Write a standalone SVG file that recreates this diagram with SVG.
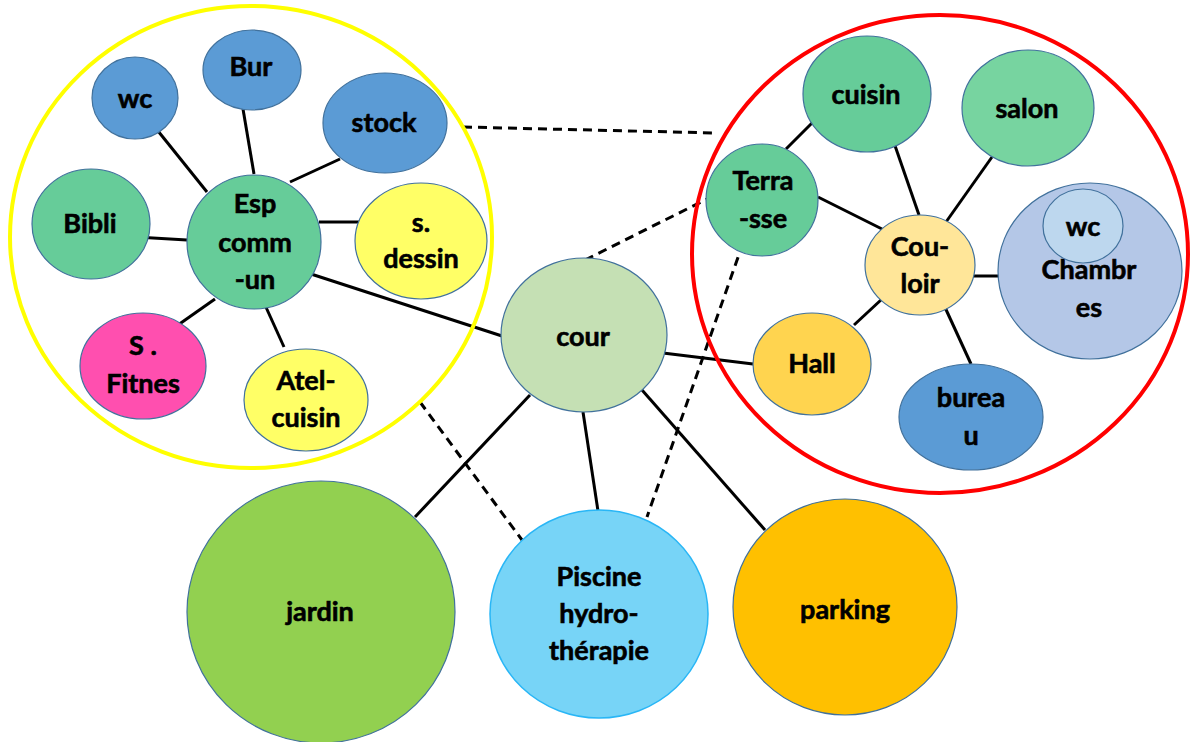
<svg xmlns="http://www.w3.org/2000/svg" width="1190" height="742" viewBox="0 0 1190 742">
<style>
.n{stroke:#41719C;stroke-width:1.2}
.t{font-family:Lato,"Liberation Sans",sans-serif;font-weight:bold;font-size:27px;fill:#000;stroke:#000;stroke-width:0.6;text-anchor:middle}
.c{stroke:#000;stroke-width:3;fill:none}
.d{stroke:#000;stroke-width:3;fill:none;stroke-dasharray:9 6}
.ring{fill:none;stroke-width:4}
</style>
<rect width="1190" height="742" fill="#ffffff"/>
<g id="connectors">
<line class="c" x1="154" y1="126" x2="207" y2="192"/>
<line class="c" x1="243" y1="109" x2="254" y2="174"/>
<line class="c" x1="340" y1="159" x2="290" y2="182"/>
<line class="c" x1="136" y1="237" x2="187" y2="240"/>
<line class="c" x1="319" y1="222" x2="361" y2="222"/>
<line class="c" x1="178" y1="325" x2="215" y2="299"/>
<line class="c" x1="265" y1="305" x2="284" y2="347"/>
<line class="c" x1="311" y1="274" x2="502" y2="336"/>
<line class="c" x1="663" y1="353" x2="753" y2="364"/>
<line class="c" x1="786" y1="149" x2="816" y2="119"/>
<line class="c" x1="892" y1="137" x2="919" y2="215"/>
<line class="c" x1="992" y1="157" x2="946" y2="222"/>
<line class="c" x1="818" y1="197" x2="882" y2="229"/>
<line class="c" x1="971" y1="276" x2="1007" y2="276"/>
<line class="c" x1="882" y1="299" x2="854" y2="325"/>
<line class="c" x1="943" y1="303" x2="971" y2="364"/>
<line class="c" x1="415" y1="517" x2="530" y2="395"/>
<line class="c" x1="583" y1="412" x2="598" y2="511"/>
<line class="c" x1="642" y1="390" x2="765" y2="530"/>
<line class="d" x1="463" y1="127" x2="716" y2="133"/>
<line class="d" x1="585" y1="260" x2="707" y2="199"/>
<line class="d" x1="743" y1="243" x2="647" y2="517"/>
<line class="d" x1="420" y1="402" x2="522" y2="540"/>
</g>
<g id="wc1"><ellipse class="n" cx="135" cy="98" rx="43" ry="41" fill="#5B9BD5"/><text class="t" x="135" y="108">wc</text></g>
<g id="bur"><ellipse class="n" cx="252" cy="70" rx="49" ry="40" fill="#5B9BD5"/><text class="t" x="251" y="76">Bur</text></g>
<g id="stock"><ellipse class="n" cx="385" cy="123" rx="62" ry="50" fill="#5B9BD5"/><text class="t" x="384" y="132">stock</text></g>
<g id="bibli"><ellipse class="n" cx="91" cy="224" rx="59" ry="55" fill="#66CC99"/><text class="t" x="90" y="233">Bibli</text></g>
<g id="esp"><ellipse class="n" cx="254" cy="242" rx="67" ry="67" fill="#66CC99"/><text class="t" x="255" y="213">Esp</text><text class="t" x="255" y="252">comm</text><text class="t" x="255" y="289">-un</text></g>
<g id="dessin"><ellipse class="n" cx="421" cy="241" rx="66" ry="58" fill="#FFFF66"/><text class="t" x="421" y="232">s.</text><text class="t" x="421" y="268">dessin</text></g>
<g id="fitnes"><ellipse class="n" cx="143" cy="366" rx="63" ry="53" fill="#FF4FAF"/><text class="t" x="143" y="355">S .</text><text class="t" x="143" y="393">Fitnes</text></g>
<g id="atel"><ellipse class="n" cx="306" cy="400" rx="62" ry="51" fill="#FFFF66"/><text class="t" x="306" y="390">Atel-</text><text class="t" x="306" y="427">cuisin</text></g>
<g id="cuisin"><ellipse class="n" cx="867" cy="94" rx="64" ry="58" fill="#66CC99"/><text class="t" x="866" y="104">cuisin</text></g>
<g id="salon"><ellipse class="n" cx="1028" cy="108" rx="66" ry="58" fill="#77D4A0"/><text class="t" x="1027" y="118">salon</text></g>
<g id="terrasse"><ellipse class="n" cx="762" cy="200" rx="56" ry="56" fill="#66CC99"/><text class="t" x="763" y="190">Terra</text><text class="t" x="763" y="228">-sse</text></g>
<g id="couloir"><ellipse class="n" cx="920" cy="265" rx="55" ry="50" fill="#FFE699"/><text class="t" x="920" y="256">Cou-</text><text class="t" x="920" y="293">loir</text></g>
<g id="chambres"><ellipse class="n" cx="1090" cy="271" rx="92" ry="88" fill="#B4C7E7"/><text class="t" x="1089" y="279">Chambr</text><text class="t" x="1089" y="317">es</text></g>
<g id="wc2"><ellipse class="n" cx="1083" cy="226" rx="40" ry="37" fill="#BDD7EE"/><text class="t" x="1083" y="236">wc</text></g>
<g id="hall"><ellipse class="n" cx="812" cy="364" rx="59" ry="51" fill="#FFD44F"/><text class="t" x="812" y="373">Hall</text></g>
<g id="bureau"><ellipse class="n" cx="971" cy="417" rx="72" ry="53" fill="#5B9BD5"/><text class="t" x="971" y="407">burea</text><text class="t" x="971" y="445">u</text></g>
<g id="cour"><ellipse class="n" cx="584" cy="335" rx="83" ry="77" fill="#C5E0B4"/><text class="t" x="583" y="346">cour</text></g>
<g id="jardin"><ellipse class="n" cx="321" cy="612" rx="134" ry="131" fill="#92D050"/><text class="t" x="320" y="621">jardin</text></g>
<g id="piscine"><ellipse cx="599" cy="614" rx="109" ry="104" fill="#77D4F7" stroke="#29B6F6" stroke-width="1.5"/><text class="t" x="599" y="586">Piscine</text><text class="t" x="599" y="623">hydro-</text><text class="t" x="599" y="660">thérapie</text></g>
<g id="parking"><ellipse class="n" cx="845" cy="607" rx="112" ry="108" fill="#FFC000"/><text class="t" x="845" y="619">parking</text></g>
<g id="zone-yellow"><ellipse class="ring" cx="251" cy="237" rx="241" ry="231" stroke="#FFFF00"/></g>
<g id="zone-red"><ellipse class="ring" cx="940" cy="254" rx="248" ry="239" stroke="#FF0000"/></g>
</svg>
